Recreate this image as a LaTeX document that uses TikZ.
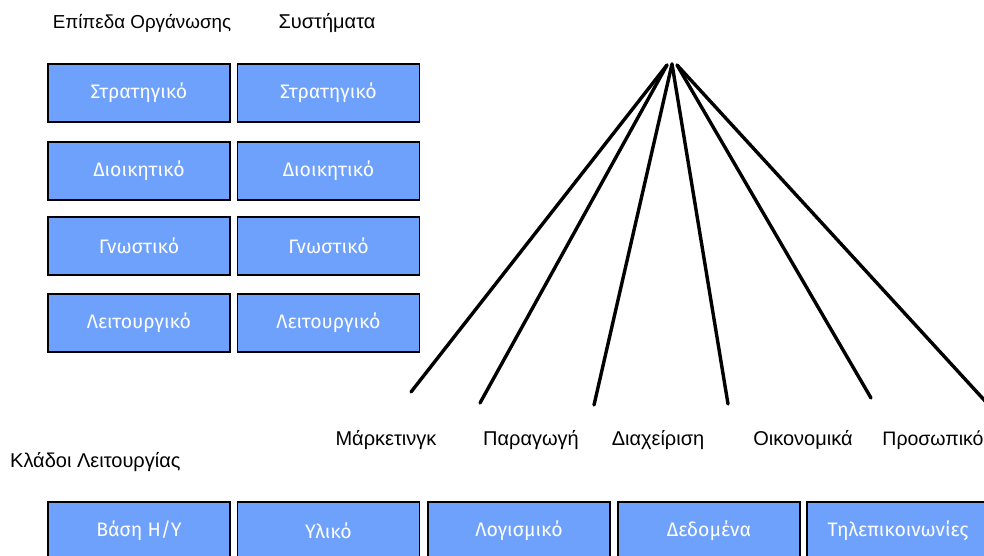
\documentclass[tikz,border=0pt]{standalone}
\usepackage{fontspec}
\setmainfont{Liberation Sans}
\newfontfamily\boxfont{Fira Sans}
\begin{document}
\begin{tikzpicture}[x=1pt,y=-1pt,
  unitbox/.style={draw=black,line width=1.6pt,fill={rgb,255:red,110;green,161;blue,252},
    minimum width=182pt,minimum height=58pt,inner sep=0pt,
    text=white,font=\boxfont\fontsize{19.5}{22}\selectfont},
  caption/.style={inner sep=0pt,font=\fontsize{20}{23}\selectfont},
  spoke/.style={line width=3.4pt,line cap=round}]
\useasboundingbox (0,0) rectangle (984,556);
\clip (0,0) rectangle (984,556);

% column headings
\node[caption,font=\fontsize{18.8}{22}\selectfont] (hlev) at (142,23) {Επίπεδα Οργάνωσης};
\node[caption] (hsys) at (327,23) {Συστήματα};

% organisation levels and systems
\node[unitbox] (l1) at (139,93)  {Στρατηγικό};
\node[unitbox] (l2) at (139,171) {Διοικητικό};
\node[unitbox] (l3) at (139,246) {Γνωστικό};
\node[unitbox] (l4) at (139,323) {Λειτουργικό};
\node[unitbox] (s1) at (328.5,93)  {Στρατηγικό};
\node[unitbox] (s2) at (328.5,171) {Διοικητικό};
\node[unitbox] (s3) at (328.5,246) {Γνωστικό};
\node[unitbox] (s4) at (328.5,323) {Λειτουργικό};

% fan of functional areas
\coordinate (apexL) at (667,65);
\coordinate (apexM) at (672,64);
\coordinate (apexR) at (677,65);
\coordinate (e1) at (411,392);
\coordinate (e2) at (480,403);
\coordinate (e3) at (594,405);
\coordinate (e4) at (728,404);
\coordinate (e5) at (871,398);
\coordinate (e6) at (986,402);
\draw[spoke] (apexL) -- (e1);
\draw[spoke] (apexL) -- (e2);
\draw[spoke] (apexM) -- (e3);
\draw[spoke] (apexM) -- (e4);
\draw[spoke] (apexR) -- (e5);
\draw[spoke] (apexR) -- (e6);

\node[caption] (f1) at (386,440) {Μάρκετινγκ};
\node[caption] (f2) at (531,440) {Παραγωγή};
\node[caption] (f3) at (658,440) {Διαχείριση};
\node[caption] (f4) at (803,440) {Οικονομικά};
\node[caption,font=\fontsize{19.5}{22}\selectfont] (f5) at (933,440) {Προσωπικό};

% computing base
\node[caption,anchor=west] (hbase) at (10,462) {Κλάδοι Λειτουργίας};
\node[unitbox] (b1) at (139,531)   {Βάση Η/Υ};
\node[unitbox] (b2) at (328.5,531) {Υλικό};
\node[unitbox] (b3) at (519,531)   {Λογισμικό};
\node[unitbox] (b4) at (709,531)   {Δεδομένα};
\node[unitbox] (b5) at (898,531)   {Τηλεπικοινωνίες};
\end{tikzpicture}
\end{document}
